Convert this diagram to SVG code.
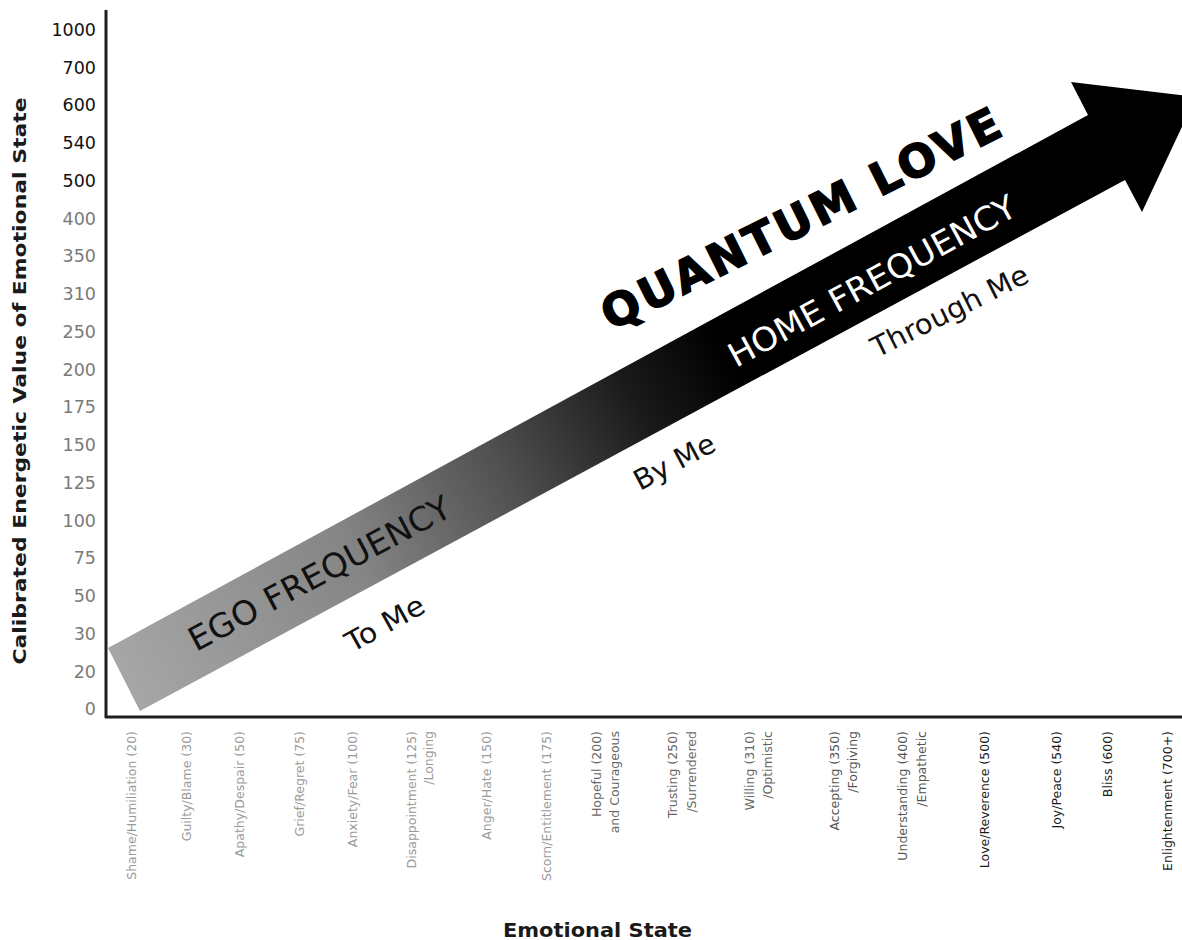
<svg xmlns="http://www.w3.org/2000/svg" width="1182" height="940" viewBox="0 0 1182 940">
<defs>
<linearGradient id="shaftGrad" gradientUnits="userSpaceOnUse" x1="124" y1="680" x2="780" y2="323">
<stop offset="0" stop-color="#a6a6a6"/>
<stop offset="0.35" stop-color="#858585"/>
<stop offset="0.58" stop-color="#505050"/>
<stop offset="0.78" stop-color="#1a1a1a"/>
<stop offset="0.92" stop-color="#000"/>
<stop offset="1" stop-color="#000"/>
</linearGradient>
<style>
.yl{font-family:"DejaVu Sans",Verdana,sans-serif;font-size:17.5px;text-anchor:end}
.yd{fill:#111}
.yg{fill:#7a7a7a}
.xl{font-family:"DejaVu Sans",Verdana,sans-serif;font-size:12.5px;text-anchor:end}
.c1{fill:#9a9a9a}
.c2{fill:#666}
.c3{fill:#555}
.c4{fill:#1a1a1a}
.title{font-family:"DejaVu Sans",Verdana,sans-serif;font-weight:bold;fill:#1a1a1a}
.arr{font-family:"DejaVu Sans",Verdana,sans-serif}
</style>
</defs>
<rect width="1182" height="940" fill="#fff"/>

<g id="arrow">
<polygon points="108,648 1088,115 1071,82 1196,97 1142,212 1125,180 140,711" fill="url(#shaftGrad)"/>
</g>

<g id="axes" stroke="#1e1e1e" stroke-width="3" fill="none">
<line x1="106" y1="10" x2="106" y2="718"/>
<line x1="105" y1="717" x2="1182" y2="717"/>
</g>

<g id="y-labels" class="yl">
<text class="yd" x="96" y="36">1000</text>
<text class="yd" x="96" y="74">700</text>
<text class="yd" x="96" y="111">600</text>
<text class="yd" x="96" y="149">540</text>
<text class="yd" x="96" y="187">500</text>
<text class="yg" x="96" y="225">400</text>
<text class="yg" x="96" y="262">350</text>
<text class="yg" x="96" y="300">310</text>
<text class="yg" x="96" y="338">250</text>
<text class="yg" x="96" y="376">200</text>
<text class="yg" x="96" y="413">175</text>
<text class="yg" x="96" y="451">150</text>
<text class="yg" x="96" y="489">125</text>
<text class="yg" x="96" y="527">100</text>
<text class="yg" x="96" y="564">75</text>
<text class="yg" x="96" y="602">50</text>
<text class="yg" x="96" y="640">30</text>
<text class="yg" x="96" y="678">20</text>
<text class="yg" x="96" y="715">0</text>
</g>

<g id="y-title">
<text class="title" font-size="18" text-anchor="middle" textLength="567" lengthAdjust="spacingAndGlyphs" transform="translate(26,381) rotate(-90)">Calibrated Energetic Value of Emotional State</text>
</g>

<g id="x-labels" class="xl">
<text class="c1" transform="translate(136,731) rotate(-90)">Shame/Humiliation (20)</text>
<text class="c1" transform="translate(191,731) rotate(-90)">Guilty/Blame (30)</text>
<text class="c1" transform="translate(244,731) rotate(-90)">Apathy/Despair (50)</text>
<text class="c1" transform="translate(304,731) rotate(-90)">Grief/Regret (75)</text>
<text class="c1" transform="translate(357,731) rotate(-90)">Anxiety/Fear (100)</text>
<text class="c1" transform="translate(416,731) rotate(-90)">Disappointment (125)</text>
<text class="c1" transform="translate(433,731) rotate(-90)">/Longing</text>
<text class="c1" transform="translate(491,731) rotate(-90)">Anger/Hate (150)</text>
<text class="c1" transform="translate(551,731) rotate(-90)">Scorn/Entitlement (175)</text>
<text class="c2" transform="translate(601,731) rotate(-90)">Hopeful (200)</text>
<text class="c2" transform="translate(619,731) rotate(-90)">and Courageous</text>
<text class="c2" transform="translate(677,731) rotate(-90)">Trusting (250)</text>
<text class="c2" transform="translate(696,731) rotate(-90)">/Surrendered</text>
<text class="c2" transform="translate(754,731) rotate(-90)">Willing (310)</text>
<text class="c2" transform="translate(772,731) rotate(-90)">/Optimistic</text>
<text class="c3" transform="translate(839,731) rotate(-90)">Accepting (350)</text>
<text class="c3" transform="translate(857,731) rotate(-90)">/Forgiving</text>
<text class="c3" transform="translate(907,731) rotate(-90)">Understanding (400)</text>
<text class="c3" transform="translate(926,731) rotate(-90)">/Empathetic</text>
<text class="c4" transform="translate(989,731) rotate(-90)">Love/Reverence (500)</text>
<text class="c4" transform="translate(1061,731) rotate(-90)">Joy/Peace (540)</text>
<text class="c4" transform="translate(1112,731) rotate(-90)">Bliss (600)</text>
<text class="c4" transform="translate(1172,731) rotate(-90)">Enlightenment (700+)</text>
</g>

<g id="x-title">
<text class="title" font-size="19" x="503" y="937" textLength="189" lengthAdjust="spacingAndGlyphs">Emotional State</text>
</g>

<g id="arrow-texts" class="arr">
<text font-size="33" fill="#111" textLength="292" lengthAdjust="spacingAndGlyphs" transform="translate(196,652) rotate(-28)">EGO FREQUENCY</text>
<text font-size="33" fill="#fff" textLength="322" lengthAdjust="spacingAndGlyphs" transform="translate(736,368) rotate(-28.5)">HOME FREQUENCY</text>
<text font-size="45" font-weight="bold" fill="#000" stroke="#000" stroke-width="1.6" textLength="440" lengthAdjust="spacing" transform="translate(611,331) rotate(-26.5)">QUANTUM LOVE</text>
<text font-size="28" fill="#111" textLength="86" lengthAdjust="spacingAndGlyphs" transform="translate(352,653) rotate(-29)">To Me</text>
<text font-size="28" fill="#111" textLength="88" lengthAdjust="spacingAndGlyphs" transform="translate(640,491) rotate(-28)">By Me</text>
<text font-size="28" fill="#111" textLength="172" lengthAdjust="spacingAndGlyphs" transform="translate(877,358) rotate(-26.5)">Through Me</text>
</g>
</svg>
